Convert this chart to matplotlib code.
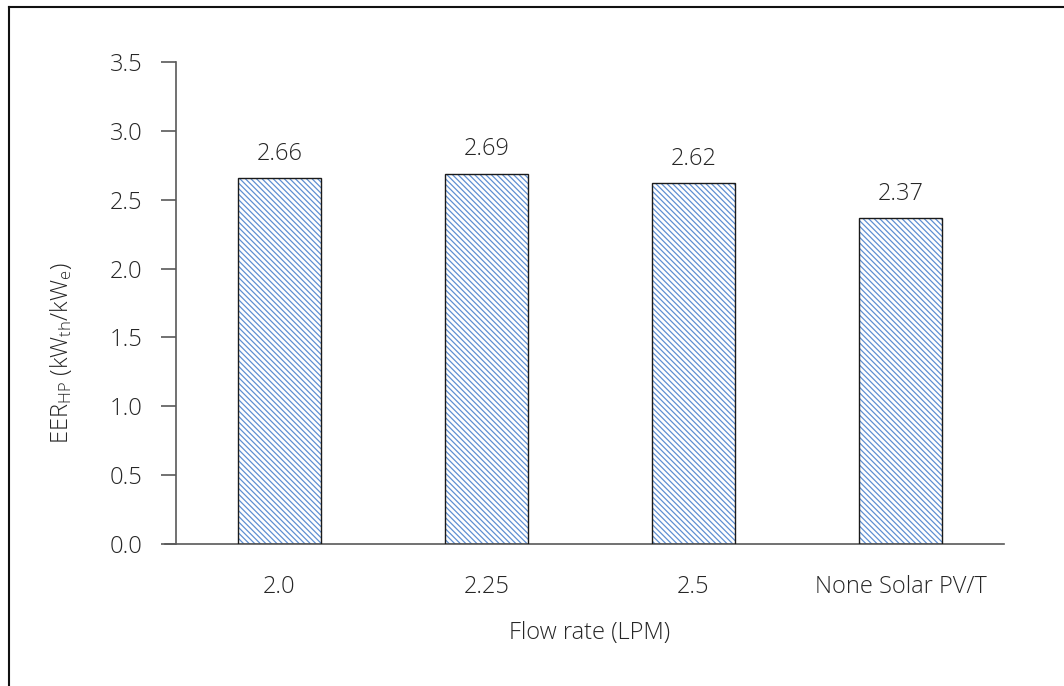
import matplotlib
matplotlib.use("Agg")
import matplotlib.pyplot as plt
from matplotlib.lines import Line2D

categories = ["2.0", "2.25", "2.5", "None Solar PV/T"]
eer_values = [2.66, 2.69, 2.62, 2.37]
y_ticks = [0.0, 0.5, 1.0, 1.5, 2.0, 2.5, 3.0, 3.5]

plt.rcParams["font.family"] = ["Open Sans", "DejaVu Sans"]
plt.rcParams["mathtext.fontset"] = "custom"
plt.rcParams["mathtext.rm"] = "Open Sans:light"
plt.rcParams["mathtext.it"] = "Open Sans:light"
plt.rcParams["hatch.linewidth"] = 0.9

FS = 17
TXT = "#262626"

fig = plt.figure(figsize=(10.64, 6.86), dpi=100)
ax = fig.add_axes([176 / 1064, 1 - 544 / 686, (1004 - 176) / 1064, (544 - 62) / 686])

x = range(len(categories))
# hatched fill, then a plain black outline on top
ax.bar(x, eer_values, width=0.40, color="white", edgecolor="#5f8fd2",
       hatch="\\\\\\\\\\\\", linewidth=0, zorder=2)
ax.bar(x, eer_values, width=0.40, color="none", edgecolor="#1a1a1a",
       linewidth=1.0, zorder=3)

for xi, v in zip(x, eer_values):
    ax.text(xi, v + 0.175, f"{v:.2f}", ha="center", va="center",
            fontsize=FS, color=TXT, fontweight="light")

ax.set_xlim(-0.5, 3.5)
ax.set_ylim(0, 3.5)
ax.set_yticks(y_ticks)
ax.set_yticklabels([f"{t:.1f}" for t in y_ticks], fontweight="light")
ax.set_xticks(list(x))
ax.set_xticklabels(categories, fontweight="light")

for side in ("top", "right"):
    ax.spines[side].set_visible(False)
for side in ("left", "bottom"):
    ax.spines[side].set_color("#595959")
    ax.spines[side].set_linewidth(1.2)
ax.spines["bottom"].set_bounds(-0.5 - 11 / 207, 3.5)

ax.tick_params(axis="y", direction="out", length=11, width=1.2, color="#595959",
               labelsize=FS, labelcolor=TXT, pad=13)
ax.tick_params(axis="x", length=0, labelsize=FS, labelcolor=TXT, pad=22)

ax.set_xlabel("Flow rate (LPM)", fontsize=FS, color=TXT, labelpad=16,
              fontweight="light")
ax.set_ylabel(r"EER$_{\mathrm{HP}}$ (kW$_{\mathrm{th}}$/kW$_{\mathrm{e}}$)",
              fontsize=FS, color=TXT, fontweight="light")
ylab = ax.yaxis.label
ylab.set_rotation_mode("default")
ylab.set_verticalalignment("center")
ylab.set_horizontalalignment("center")
ax.yaxis.set_label_coords(-(176 - 61) / 828, (544 - 353) / 482)

# outer frame lines
fig.add_artist(Line2D([9 / 1064, 9 / 1064], [0, 1 - 7 / 686],
                      transform=fig.transFigure, color="#111111", linewidth=1.5))
fig.add_artist(Line2D([9 / 1064, 1], [1 - 7 / 686, 1 - 7 / 686],
                      transform=fig.transFigure, color="#111111", linewidth=1.5))

fig.savefig("out.png", dpi=100)
